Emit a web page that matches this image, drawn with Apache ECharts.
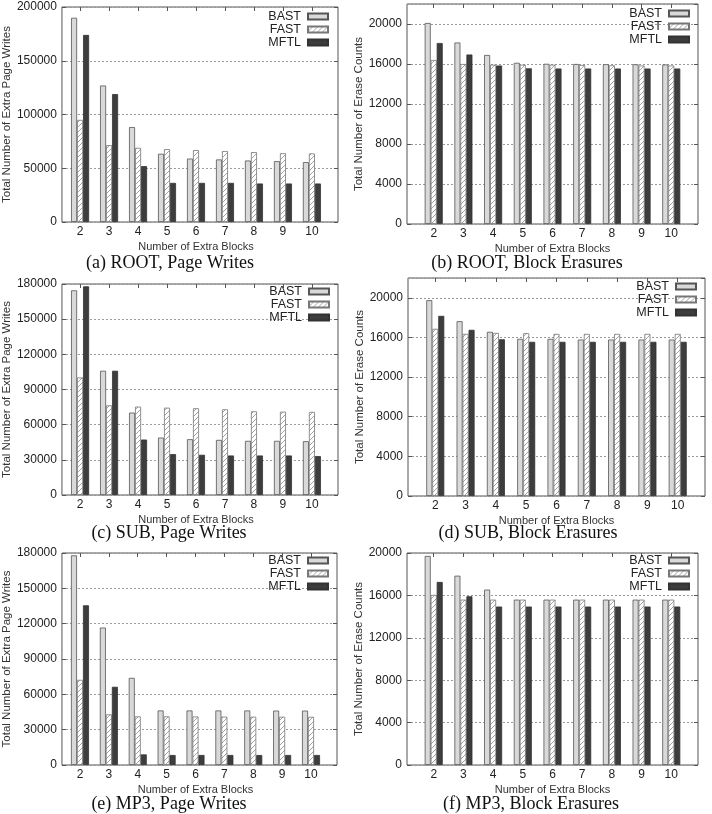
<!DOCTYPE html>
<html>
<head>
<meta charset="utf-8">
<script src="https://cdn.jsdelivr.net/npm/echarts@6/dist/echarts.min.js"></script>
<style>
html, body { margin: 0; padding: 0; background: #fff; }
#main { width: 712px; height: 814px; }
</style>
</head>
<body>
<div id="main"></div>
<script>
// number of extra blocks (x axis)
var blocks = ['2', '3', '4', '5', '6', '7', '8', '9', '10'];
var ftlNames = ['BAST', 'FAST', 'MFTL'];

// (a) ROOT, page writes
var rootWritesBast = [190000, 127000, 88300, 63500, 59000, 58200, 57200, 56600, 55700];
var rootWritesFast = [95000, 71500, 69000, 67800, 66900, 66000, 65000, 64000, 63800];
var rootWritesMftl = [174000, 119000, 52000, 36400, 36400, 36400, 35800, 35800, 35800];
// (b) ROOT, block erasures
var rootErasesBast = [20100, 18150, 16900, 16120, 16020, 16000, 15980, 15970, 15950];
var rootErasesFast = [16400, 16000, 15930, 15930, 15930, 15900, 15870, 15850, 15850];
var rootErasesMftl = [18100, 16950, 15850, 15570, 15550, 15550, 15550, 15550, 15550];
// (c) SUB, page writes
var subWritesBast = [174600, 106000, 70300, 49000, 47600, 47000, 46200, 46200, 45900];
var subWritesFast = [100300, 76500, 75400, 74500, 74000, 73100, 71400, 71100, 70900];
var subWritesMftl = [178000, 106000, 47300, 34900, 34300, 33700, 33700, 33700, 33200];
// (d) SUB, block erasures
var subErasesBast = [19760, 17640, 16570, 15860, 15860, 15790, 15790, 15790, 15790];
var subErasesFast = [16870, 16360, 16460, 16430, 16360, 16360, 16360, 16360, 16360];
var subErasesMftl = [18180, 16770, 15820, 15560, 15560, 15560, 15560, 15560, 15560];
// (e) MP3, page writes
var mp3WritesBast = [178000, 116700, 74000, 46300, 46300, 46300, 46300, 46200, 46200];
var mp3WritesFast = [72300, 43000, 41300, 41300, 41200, 41100, 41000, 41000, 40900];
var mp3WritesMftl = [135600, 66400, 9000, 8500, 8500, 8500, 8500, 8500, 8500];
// (f) MP3, block erasures
var mp3ErasesBast = [19720, 17860, 16550, 15600, 15600, 15600, 15600, 15600, 15600];
var mp3ErasesFast = [16050, 15600, 15600, 15600, 15600, 15600, 15600, 15600, 15600];
var mp3ErasesMftl = [17270, 15920, 14950, 14950, 14950, 14950, 14950, 14950, 14950];

var writesName = 'Total Number of Extra Page Writes';
var erasesName = 'Total Number of Erase Counts';

var panels = [
    {caption: '(a) ROOT, Page Writes', data: [rootWritesBast, rootWritesFast, rootWritesMftl], yName: writesName, max: 200000, interval: 50000,
        left: 54, top: 7, width: 284, height: 215, capX: 170, capY: 254, legRight: 383, legTop: 10},
    {caption: '(b) ROOT, Block Erasures', data: [rootErasesBast, rootErasesFast, rootErasesMftl], yName: erasesName, max: 22000, interval: 4000,
        left: 407, top: 4, width: 291, height: 220, capX: 527, capY: 254, legRight: 22, legTop: 7},
    {caption: '(c) SUB, Page Writes', data: [subWritesBast, subWritesFast, subWritesMftl], yName: writesName, max: 180000, interval: 30000,
        left: 54, top: 284, width: 284, height: 211, capX: 169, capY: 524, legRight: 382, legTop: 285},
    {caption: '(d) SUB, Block Erasures', data: [subErasesBast, subErasesFast, subErasesMftl], yName: erasesName, max: 22000, interval: 4000,
        left: 408, top: 278, width: 297, height: 218, capX: 528, capY: 524, legRight: 15, legTop: 280},
    {caption: '(e) MP3, Page Writes', data: [mp3WritesBast, mp3WritesFast, mp3WritesMftl], yName: writesName, max: 180000, interval: 30000,
        left: 54, top: 553, width: 283, height: 212, capX: 169, capY: 795, legRight: 383, legTop: 554},
    {caption: '(f) MP3, Block Erasures', data: [mp3ErasesBast, mp3ErasesFast, mp3ErasesMftl], yName: erasesName, max: 20000, interval: 4000,
        left: 407, top: 553, width: 291, height: 212, capX: 531, capY: 795, legRight: 22, legTop: 554}
];

// diagonal hatch for FAST
var hatch = document.createElement('canvas');
hatch.width = 5;
hatch.height = 5;
var hctx = hatch.getContext('2d');
hctx.fillStyle = '#fff';
hctx.fillRect(0, 0, 5, 5);
hctx.strokeStyle = '#999';
hctx.lineWidth = 0.9;
hctx.beginPath();
hctx.moveTo(0, 5); hctx.lineTo(5, 0);
hctx.moveTo(-1, 1); hctx.lineTo(1, -1);
hctx.moveTo(4, 6); hctx.lineTo(6, 4);
hctx.stroke();

var barStyles = [
    {color: '#d9d9d9', borderColor: '#555', borderWidth: 0.8},
    {color: {image: hatch, repeat: 'repeat'}, borderColor: '#777', borderWidth: 0.8},
    {color: '#3d3d3d', borderColor: '#333', borderWidth: 0.8}
];

var sans = "'Liberation Sans', Arial, sans-serif";
var tickStyle = {show: true, inside: true, length: 4, lineStyle: {color: '#555'}};
var grids = [], xAxes = [], yAxes = [], titles = [], legends = [], series = [];

panels.forEach(function (p, k) {
    // gnuplot leaves ~0.9 of a category between the frame and the first/last bar group
    var unit = p.width / 9.8;
    var fg = 2 * k, dg = 2 * k + 1;
    // frame grid (border, y labels, grid lines)
    grids.push({left: p.left, top: p.top, width: p.width, height: p.height,
        show: true, borderColor: '#555', borderWidth: 1, backgroundColor: '#fff'});
    // data grid, inset horizontally
    grids.push({left: p.left + 0.4 * unit, top: p.top, width: 9 * unit, height: p.height});

    titles.push({text: p.caption, left: p.capX, top: p.capY, textAlign: 'center', padding: 0,
        textStyle: {fontFamily: "'Liberation Serif', 'Times New Roman', serif", fontSize: 18, fontWeight: 'normal', color: '#111'}});
    legends.push({data: ftlNames, right: p.legRight, top: p.legTop, orient: 'vertical', align: 'right',
        padding: 0, itemGap: 0, itemWidth: 20, itemHeight: 6, selectedMode: false, icon: 'rect',
        textStyle: {fontFamily: sans, fontSize: 12.5, lineHeight: 11.5, color: '#222', padding: [0, 2, 0, 0]}});

    // x axes: 3k frame (hidden), 3k+1 bottom categories, 3k+2 top mirror ticks
    xAxes.push({type: 'value', gridIndex: fg, min: 0, max: 1, show: false});
    [false, true].forEach(function (mirror) {
        xAxes.push({
            type: 'category', gridIndex: dg, data: blocks,
            position: mirror ? 'top' : 'bottom',
            name: mirror ? '' : 'Number of Extra Blocks', nameLocation: 'middle', nameGap: 19,
            nameTextStyle: {fontFamily: sans, fontSize: 11, color: '#333'},
            axisLine: {show: false},
            axisTick: {show: true, inside: true, length: 4, alignWithLabel: true, lineStyle: {color: '#555'}},
            splitLine: {show: false},
            axisLabel: {show: !mirror, margin: 4, fontFamily: sans, fontSize: 12, color: '#222'}
        });
    });

    // y axes: 3k frame left (labels), 3k+1 frame right mirror, 3k+2 data (hidden)
    [false, true].forEach(function (mirror) {
        yAxes.push({
            type: 'value', gridIndex: fg, min: 0, max: p.max, interval: p.interval,
            position: mirror ? 'right' : 'left',
            name: mirror ? '' : p.yName, nameLocation: 'middle', nameGap: 41,
            nameTextStyle: {fontFamily: sans, fontSize: 11.5, color: '#333'},
            axisLine: {show: false},
            axisTick: tickStyle,
            splitLine: {show: !mirror, lineStyle: {color: '#999', type: [2, 2], width: 1}},
            axisLabel: {show: !mirror, margin: 5, showMaxLabel: p.max % p.interval === 0,
                fontFamily: sans, fontSize: 12, color: '#222',
                formatter: function (v) { return String(v); }}
        });
    });
    yAxes.push({type: 'value', gridIndex: dg, min: 0, max: p.max, show: false});

    ftlNames.forEach(function (name, s) {
        series.push({
            name: name, type: 'bar', xAxisIndex: 3 * k + 1, yAxisIndex: 3 * k + 2,
            barWidth: 6, barGap: '0%',
            itemStyle: barStyles[s],
            data: p.data[s]
        });
    });
});

var chart = echarts.init(document.getElementById('main'));
chart.setOption({
    animation: false,
    title: titles,
    legend: legends,
    grid: grids,
    xAxis: xAxes,
    yAxis: yAxes,
    series: series
});
</script>
</body>
</html>
